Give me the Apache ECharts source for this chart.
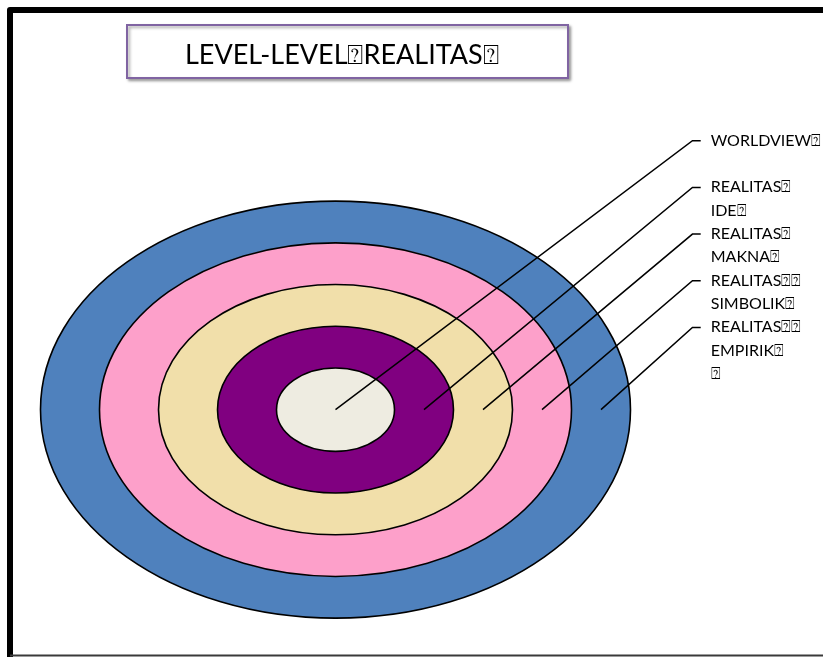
<!DOCTYPE html>
<html>
<head>
<meta charset="utf-8">
<script src="https://cdn.jsdelivr.net/npm/echarts@6/dist/echarts.min.js"></script>
<style>
  html, body { margin: 0; padding: 0; background: #fff; }
  #chart { width: 823px; height: 657px; }
</style>
</head>
<body>
<div id="chart"></div>
<script>
// levels, outermost first
var levelNames = ["WORLDVIEW⍰", "REALITAS⍰\nIDE⍰", "REALITAS⍰\nMAKNA⍰", "REALITAS⍰⍰\nSIMBOLIK⍰", "REALITAS⍰⍰\nEMPIRIK⍰\n⍰"];
// ring radius (level units), outer ellipse first
var ringRadius = [5, 4, 3, 2, 1];
// where each leader line starts (level units from centre), inner to outer
var leaderStart = [0, 1.5, 2.5, 3.5, 4.5];
var titleText = "LEVEL-LEVEL⍰REALITAS⍰";

var ringColors = ["#4f81bd", "#fda0ca", "#f1dfaa", "#800080", "#eeece1"];

var myChart = echarts.init(document.getElementById("chart"));

var ringData = ringRadius.map(function (r, i) {
  return { value: [0, 0, r], itemStyle: { color: ringColors[i] } };
});

var leaderData = leaderStart.map(function (s, i) {
  return [s, 0, 6.45 - i * 1.12, i];
});

var option = {
  animation: false,
  grid: { left: 11, right: 15.5, top: 13.5, bottom: 18 },
  xAxis: { type: "value", min: -5.5, max: 8, show: false },
  yAxis: { type: "value", min: -5.5, max: 9.5, show: false },
  series: [
    {
      type: "custom",
      data: ringData,
      renderItem: function (params, api) {
        var c = api.coord([0, 0]);
        var e = api.coord([api.value(2), api.value(2)]);
        return {
          type: "ellipse",
          shape: { cx: c[0], cy: c[1], rx: e[0] - c[0], ry: c[1] - e[1] },
          style: { fill: api.visual("color"), stroke: "#000", lineWidth: 1.6 }
        };
      }
    },
    {
      type: "custom",
      data: leaderData,
      z: 3,
      renderItem: function (params, api) {
        var a = api.coord([api.value(0), api.value(1)]);
        var b = api.coord([6.05, api.value(2)]);
        var h = api.coord([6.19, api.value(2)]);
        return {
          type: "group",
          children: [
            {
              type: "polyline",
              shape: { points: [a, b, h] },
              style: { stroke: "#000", lineWidth: 1.5, fill: null }
            },
            {
              type: "text",
              x: h[0] + 10,
              y: h[1] - 12,
              style: {
                text: levelNames[api.value(3)],
                font: "16px Lato",
                lineHeight: 23.5,
                fill: "#000",
                verticalAlign: "top"
              }
            }
          ]
        };
      }
    }
  ],
  graphic: [
    {
      type: "polyline",
      shape: { points: [[10, 657], [10, 10], [823, 10]] },
      style: { stroke: "#000", lineWidth: 6, fill: null, lineJoin: "round" }
    },
    {
      type: "line",
      shape: { x1: 10, y1: 655.5, x2: 823, y2: 655.5 },
      style: { stroke: "#3a3a3a", lineWidth: 2 }
    },
    {
      type: "rect",
      shape: { x: 127, y: 25, width: 441, height: 53 },
      style: {
        fill: "#fff", stroke: "#8064a2", lineWidth: 2,
        shadowBlur: 3, shadowOffsetX: 2, shadowOffsetY: 2, shadowColor: "rgba(0,0,0,0.35)"
      }
    },
    {
      type: "text",
      x: 185,
      y: 55,
      style: { text: titleText, font: "27px Lato", fill: "#000", verticalAlign: "middle" }
    }
  ]
};
myChart.setOption(option);
</script>
</body>
</html>
